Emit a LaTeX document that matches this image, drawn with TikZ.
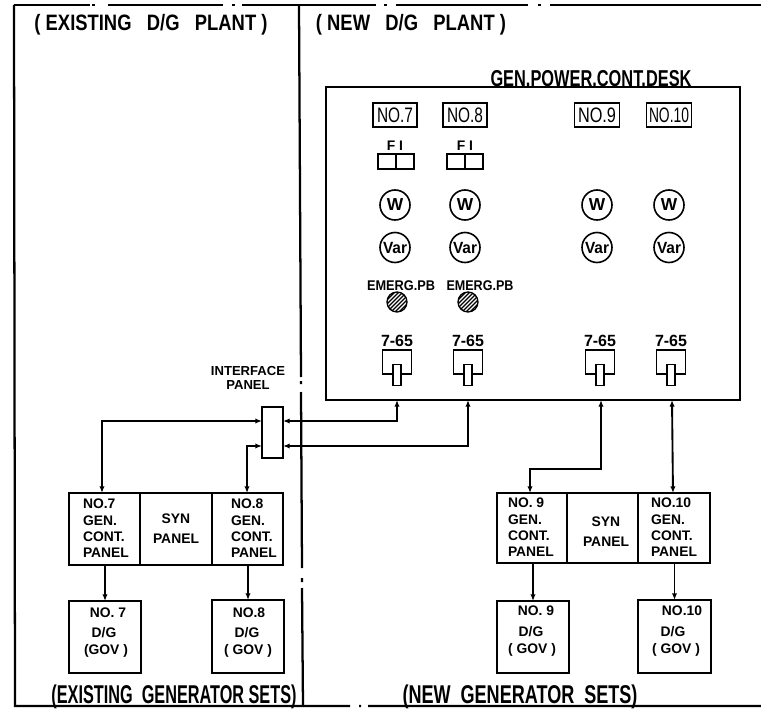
\documentclass[tikz,border=0pt]{standalone}
\usepackage{fontspec}
\setmainfont{Liberation Sans}
\usetikzlibrary{arrows.meta}
\newcommand{\FW}[2]{\resizebox{\dimexpr#1pt*3/4\relax}{\totalheight}{#2}}
\tikzset{
  x=0.75pt,y=-0.75pt,
  wire/.style={line width=1.4pt,black},
  link/.style={wire,{Latex[length=5pt,width=4pt]}-{Latex[length=5pt,width=4pt]}},
  feed/.style={wire,-{Latex[length=5pt,width=4pt]}},
  boxed/.style 2 args={draw,line width=1.4pt,inner sep=0pt,outer sep=0pt,minimum width=#1*0.75pt,minimum height=#2*0.75pt},
  lab/.style={inner sep=0pt,outer sep=0pt,font=\fontsize{10.4}{12}\selectfont\bfseries},
  blk/.style={lab,align=left,anchor=west,font=\fontsize{10.4}{12.2}\selectfont\bfseries},
  title/.style={inner sep=0pt,font=\fontsize{13}{15}\selectfont\bfseries},
  numlab/.style={inner sep=0pt,font=\fontsize{15.5}{17}\selectfont},
  meter/.style={draw,circle,line width=1.2pt,minimum size=22.5pt,inner sep=0pt,outer sep=0pt}
}
\begin{document}
\begin{tikzpicture}
\useasboundingbox (0,0) rectangle (761,717);
% frame
\draw[line width=1.5pt] (14,5) -- (90,5) (92,5) -- (95,5) (108,5) -- (223,5) (232,5) -- (235,5) (242,5) -- (376,5)
  (384,5) -- (387,5) (396,5) -- (528,5) (538,5) -- (541,5) (550,5) -- (761,5);
\draw[line width=1.7pt] (14,5) -- (15,706) -- (350,706) (359,706) -- (361,706) (368,706) -- (761,706);
\draw[line width=1.7pt] (299,5) -- (301,377) (301,381) -- (301,384) (301,392) -- (302,568) (302,578) -- (302,582) (302,588) -- (303,706);
% titles
\node[title] (tEx) at (151,25) {\FW{233}{( EXISTING\ \ \ D/G\ \ \ PLANT )}};
\node[title] (tNew) at (411,25) {\FW{190}{( NEW\ \ \ D/G\ \ \ PLANT )}};
\node[inner sep=0pt,font=\fontsize{17}{19}\selectfont\bfseries] (tDesk) at (591,78.5) {\FW{201}{GEN.POWER.CONT.DESK}};
\node[title,font=\fontsize{15}{17}\selectfont\bfseries] (tExSets) at (174,697) {\FW{245}{(EXISTING\ \ GENERATOR SETS)}};
\node[title,font=\fontsize{15}{17}\selectfont\bfseries] (tNewSets) at (520,697) {\FW{235}{(NEW\ \ GENERATOR\ \ SETS)}};
% desk
\node[boxed={414}{313}] (desk) at (533,243.5) {};
\node[boxed={44}{24}] (n7) at (395,115) {};
\node[numlab] at (n7) {\FW{36}{NO.7}};
\node[boxed={44}{24}] (n8) at (465,115) {};
\node[numlab] at (n8) {\FW{36}{NO.8}};
\node[boxed={45}{24}] (n9) at (597,115) {};
\node[numlab] at (n9) {\FW{38}{NO.9}};
\node[boxed={45}{24}] (n10) at (669,115) {};
\node[numlab] at (n10) {\FW{40}{NO.10}};
% frequency indicators
\node[boxed={18}{15}] (fa) at (387,161.5) {};
\node[boxed={18}{15}] (fb) at (405,161.5) {};
\node[boxed={18}{15}] (fc) at (456,161.5) {};
\node[boxed={18}{15}] (fd) at (474,161.5) {};
\node[lab] (fl1) at (395,146) {F I};
\node[lab] (fl2) at (465,146) {F I};
% meters
\foreach \nm/\cx in {a/395,b/465,c/597,d/669}{
  \node[meter,font=\fontsize{13}{14}\selectfont\bfseries] (w\nm) at (\cx,205) {W};
  \node[meter,font=\fontsize{12}{14}\selectfont\bfseries] (v\nm) at (\cx,247.5) {\FW{24}{Var}};
}
% emergency push buttons
\node[lab] (e1) at (401,286) {\FW{68}{EMERG.PB}};
\node[lab] (e2) at (480,286) {\FW{67}{EMERG.PB}};
\foreach \cx in {397,468}{
  \begin{scope}
    \clip (\cx,302) circle (7.5pt);
    \foreach \d in {-16,-12,...,16}{
      \draw[line width=0.9pt] (\cx+\d-14,316) -- (\cx+\d+14,288);
    }
  \end{scope}
  \draw[line width=1pt] (\cx,302) circle (7.5pt);
}
% switches
\foreach \nm/\cx in {a/397,b/468,c/600,d/671}{
  \node[lab,font=\fontsize{12}{14}\selectfont\bfseries] (s\nm) at (\cx,341) {\FW{32}{7-65}};
  \draw[line width=1.2pt] (\cx-3.5,374) -- (\cx-14.5,374) -- (\cx-14.5,350) -- (\cx+14.5,350) -- (\cx+14.5,374) -- (\cx+3.5,374);
  \node[boxed={8}{21},fill=white,line width=1.1pt] (k\nm) at (\cx,375) {};
}
% interface panel
\node[boxed={21}{51}] (iface) at (272.5,432.5) {};
\node[lab,align=center,font=\fontsize{9.8}{10.6}\selectfont\bfseries] (ifl) at (248,378) {INTERFACE\\PANEL};
% generator control panels
\node[boxed={71}{72}] (p7) at (104.5,529) {};
\node[boxed={72}{72}] (s78) at (176,529) {};
\node[boxed={71}{72}] (p8) at (247.5,529) {};
\node[boxed={70}{70}] (p9) at (532,528) {};
\node[boxed={71}{70}] (s910) at (602.5,528) {};
\node[boxed={72}{70}] (p10) at (674,528) {};
\node[blk] at (83,528.5) {NO.7\\GEN.\\CONT.\\PANEL};
\node[blk] at (231,528.5) {NO.8\\GEN.\\CONT.\\PANEL};
\node[blk] at (508,527.5) {NO. 9\\GEN.\\CONT.\\PANEL};
\node[blk] at (651,527.5) {NO.10\\GEN.\\CONT.\\PANEL};
\node[lab,align=center,font=\fontsize{10.4}{15}\selectfont\bfseries] at (s78) {SYN\\PANEL};
\node[lab,align=center,font=\fontsize{10.4}{15}\selectfont\bfseries] at (606,531.5) {SYN\\PANEL};
% generators
\node[boxed={72}{72}] (g7) at (105,637) {};
\node[boxed={72}{73}] (g8) at (248,636.5) {};
\node[boxed={72}{72}] (g9) at (533,637) {};
\node[boxed={73}{73}] (g10) at (674.5,636.5) {};
\node[lab] at (108,613) {NO. 7};
\node[lab] at (104,633) {D/G};
\node[lab] at (106,651) {(GOV )};
\node[lab] at (249,613) {NO.8};
\node[lab] at (247,633) {D/G};
\node[lab] at (248,651) {( GOV )};
\node[lab] at (536,611) {NO. 9};
\node[lab] at (531,632) {D/G};
\node[lab] at (532,650) {( GOV )};
\node[lab] at (682,611) {NO.10};
\node[lab] at (673,632) {D/G};
\node[lab] at (676,650) {( GOV )};
% connector ends
\coordinate (d7) at (397,400);
\coordinate (d8) at (468,400);
\coordinate (d9) at (601,400);
\coordinate (d10) at (672,400);
\coordinate (i1) at (272.5,421);
\coordinate (i2) at (272.5,446);
\coordinate (c7) at (102,493);
\coordinate (c8) at (247,493);
\coordinate (c9) at (530,493);
\coordinate (c10) at (673,493);
% connectors
\draw[link] (iface.west |- i1) -| (c7);
\draw[link] (iface.west |- i2) -| (c8);
\draw[link] (iface.east |- i1) -| (d7);
\draw[link] (iface.east |- i2) -| (d8);
\draw[link] (d9) -- (601,469) -- (530,469) -- (c9);
\draw[link] (d10) -- (c10);
\draw[feed] (p7.south -| g7) -- (g7.north);
\draw[feed] (p8.south -| g8) -- (g8.north);
\draw[feed] (p9.south -| g9) -- (g9.north);
\draw[feed] (p10.south -| g10) -- (g10.north);
\end{tikzpicture}
\end{document}
